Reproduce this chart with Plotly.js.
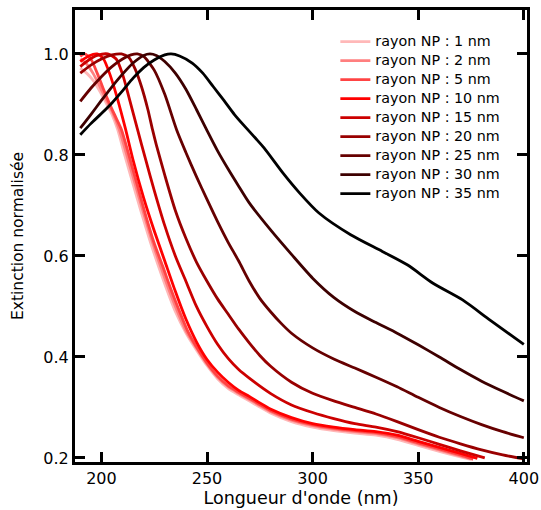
<!DOCTYPE html>
<html>
<head>
<meta charset="utf-8">
<script src="https://cdn.plot.ly/plotly-3.0.1.min.js"></script>
<style>html,body{margin:0;padding:0;background:#fff;}#chart{width:541px;height:510px;}</style>
</head>
<body>
<div id="chart"></div>
<script>
// Wavelength (nm) and normalised extinction for each NP radius
const wl_1nm  = [190,193,196,199,202,205,207.7,211,215,219,223,227,231,235,240,245,250,255,260,265,270,275,280,290,300,310,320,330,340,350,360,370,375];
const ext_1nm = [0.972,0.962,0.948,0.928,0.905,0.88,0.85,0.80,0.742,0.685,0.63,0.58,0.533,0.49,0.448,0.414,0.383,0.357,0.338,0.325,0.313,0.301,0.289,0.272,0.261,0.254,0.249,0.245,0.237,0.225,0.213,0.202,0.197];

const wl_2nm  = [190,193,196,199,202,205,208.5,212,216,220,224,228,232,236,240,245,250,255,260,265,270,275,280,290,300,310,320,330,340,350,360,370,376];
const ext_2nm = [0.99,0.98,0.962,0.938,0.912,0.887,0.85,0.80,0.742,0.685,0.63,0.58,0.533,0.49,0.452,0.418,0.386,0.36,0.341,0.328,0.316,0.304,0.292,0.275,0.264,0.257,0.252,0.248,0.240,0.228,0.216,0.204,0.197];

const wl_5nm  = [190,192,195,198,201,204,207,209.5,213,217,221,225,229,233,237,241,245,250,255,260,265,270,275,280,290,300,310,320,330,340,350,360,370,376];
const ext_5nm = [0.995,1.0,0.99,0.962,0.93,0.9,0.873,0.85,0.80,0.74,0.68,0.625,0.58,0.533,0.49,0.45,0.42,0.388,0.362,0.343,0.33,0.318,0.306,0.294,0.277,0.266,0.259,0.254,0.250,0.242,0.230,0.218,0.206,0.198];

const wl_10nm  = [190,194,198,201,204,207,209,211.5,215,220,225,230,235,240,245,250,255,260,265,270,275,280,290,300,310,320,330,340,350,360,370,378];
const ext_10nm = [0.985,0.996,1.0,0.99,0.96,0.92,0.89,0.85,0.79,0.715,0.65,0.59,0.53,0.475,0.43,0.395,0.370,0.350,0.334,0.322,0.309,0.297,0.280,0.268,0.261,0.256,0.252,0.245,0.233,0.221,0.209,0.199];

const wl_15nm  = [190,194,198,203,207,210,213,217,221,225,230,235,240,245,250,255,260,265,270,280,290,300,310,320,330,340,350,360,370,381.5];
const ext_15nm = [0.975,0.988,0.997,1.0,0.99,0.96,0.915,0.852,0.79,0.73,0.66,0.60,0.55,0.50,0.46,0.425,0.397,0.375,0.358,0.328,0.305,0.29,0.278,0.268,0.261,0.252,0.240,0.227,0.214,0.200];

const wl_20nm  = [190,195,200,205,209.5,213,216,219,222,224.2,226,230,235,240,245,250,255,260,265,270,275,280,290,300,310,320,330,340,350,360,370,380,390,400];
const ext_20nm = [0.962,0.978,0.99,0.998,1.0,0.993,0.97,0.935,0.89,0.85,0.82,0.76,0.69,0.635,0.588,0.55,0.515,0.485,0.455,0.428,0.403,0.382,0.35,0.328,0.313,0.300,0.287,0.272,0.256,0.241,0.228,0.216,0.206,0.198];

const wl_25nm  = [190,195,200,205,210,214,217,220,225,230,235.6,240,245,250,255,260,265,270,275,280,285,290,300,310,320,330,340,350,360,370,380,390,400];
const ext_25nm = [0.906,0.932,0.955,0.975,0.99,0.998,1.0,0.995,0.968,0.92,0.85,0.805,0.757,0.712,0.668,0.627,0.59,0.55,0.516,0.49,0.467,0.447,0.418,0.396,0.378,0.360,0.341,0.320,0.300,0.282,0.266,0.252,0.240];

const wl_30nm  = [190,195,200,205,210,215,220,223,226,230,235,240,245,249.8,255,260,265,270,280,290,300,310,320,330,340,350,360,370,380,390,400];
const ext_30nm = [0.853,0.880,0.908,0.935,0.960,0.982,0.997,1.0,0.997,0.985,0.962,0.93,0.89,0.85,0.808,0.772,0.738,0.705,0.652,0.603,0.556,0.518,0.490,0.468,0.447,0.424,0.400,0.375,0.352,0.332,0.313];

const wl_35nm  = [190,195,200,205,210,215,220,225,230,233,237,243,248,253,258,263,268,273,277,286,294,303,318,333,345,357,371,384,400];
const ext_35nm = [0.840,0.862,0.882,0.903,0.927,0.952,0.973,0.988,0.998,1.0,0.996,0.982,0.962,0.935,0.908,0.880,0.856,0.833,0.814,0.764,0.724,0.685,0.642,0.609,0.582,0.546,0.513,0.473,0.425];

const seriesNames = ["rayon NP : 1 nm","rayon NP : 2 nm","rayon NP : 5 nm","rayon NP : 10 nm","rayon NP : 15 nm","rayon NP : 20 nm","rayon NP : 25 nm","rayon NP : 30 nm","rayon NP : 35 nm"];
const seriesX = [wl_1nm, wl_2nm, wl_5nm, wl_10nm, wl_15nm, wl_20nm, wl_25nm, wl_30nm, wl_35nm];
const seriesY = [ext_1nm, ext_2nm, ext_5nm, ext_10nm, ext_15nm, ext_20nm, ext_25nm, ext_30nm, ext_35nm];
const seriesColors = ["#ffb8b8","#ff7f7f","#ff4444","#ff0000","#cc0000","#990000","#660000","#3d0000","#000000"];

const xTicks = [200,250,300,350,400];
const yTicks = [0.2,0.4,0.6,0.8,1.0];

const traces = seriesNames.map((name, i) => ({
  type: "scatter",
  mode: "lines",
  name: '<span style="font-size:14.3px">' + name + '</span>',
  x: seriesX[i],
  y: seriesY[i],
  line: {color: seriesColors[i], width: 2.8, shape: "spline", smoothing: 0.7}
}));

const font = "DejaVu Sans, Verdana, sans-serif";

const layout = {
  width: 541,
  height: 510,
  margin: {l: 75, r: 14, t: 10, b: 48},
  paper_bgcolor: "#ffffff",
  plot_bgcolor: "#ffffff",
  font: {family: font, size: 14, color: "#000"},
  showlegend: true,
  legend: {
    x: 0.576, y: 0.962, xanchor: "left", yanchor: "top",
    bgcolor: "rgba(0,0,0,0)", borderwidth: 0,
    font: {family: font, size: 10.9, color: "#000"},
    tracegroupgap: 0, itemwidth: 30
  },
  xaxis: {
    range: [187.5, 401.5],
    tickvals: xTicks,
    ticktext: xTicks.map(String),
    ticks: "inside", ticklen: 10, tickwidth: 3, tickcolor: "#000",
    showline: true, linewidth: 3, linecolor: "#000", mirror: "ticks",
    showgrid: false, zeroline: false,
    tickfont: {family: font, size: 16, color: "#000"},
    title: {text: "Longueur d'onde (nm)", font: {family: font, size: 17.5, color: "#000"}, standoff: 1}
  },
  yaxis: {
    range: [0.192, 1.087],
    tickvals: yTicks,
    ticktext: yTicks.map(v => v.toFixed(1)),
    ticks: "inside", ticklen: 10, tickwidth: 3, tickcolor: "#000",
    showline: true, linewidth: 3, linecolor: "#000", mirror: "ticks",
    showgrid: false, zeroline: false,
    tickfont: {family: font, size: 16, color: "#000"},
    title: {text: "Extinction normalisée", font: {family: font, size: 15.5, color: "#000"}, standoff: 16}
  }
};

Plotly.newPlot("chart", traces, layout, {displayModeBar: false, staticPlot: true});
</script>
</body>
</html>
